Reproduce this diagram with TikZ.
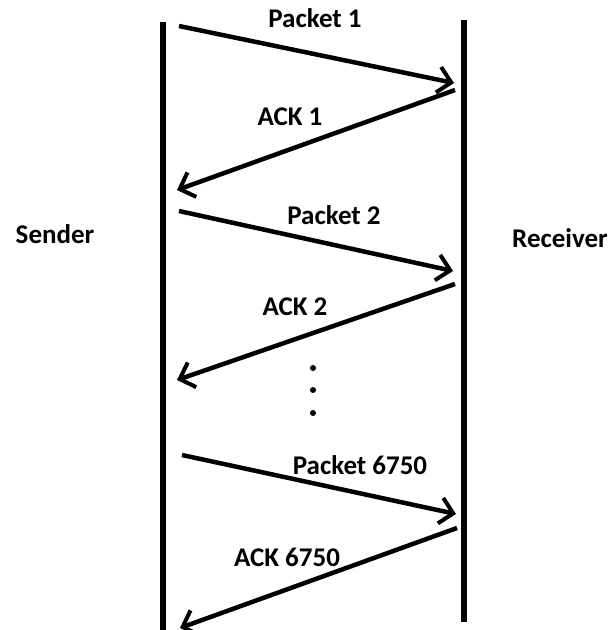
\documentclass[tikz,border=0pt]{standalone}
\usepackage{fontspec}
\setmainfont{Carlito}
\usetikzlibrary{positioning,arrows.meta}

\begin{document}
\begin{tikzpicture}[x=1pt,y=-1pt,
		every node/.style={
			font=\fontsize{27}{30}\selectfont\bfseries,
			inner sep=1pt,
		},
		lifeline/.style={line width=5.5pt},
		msg/.style={line width=4.5pt,-{Straight Barb[length=13pt,width=26pt,line width=4pt]}},
		dot/.style={circle,fill,inner sep=0pt,minimum size=6pt},
		]

		\useasboundingbox (0,0) rectangle (616,630);

		% lifelines
		\coordinate (sendtop) at (163,22);
		\coordinate (sendbot) at (163,630);
		\coordinate (recvtop) at (464,20);
		\coordinate (recvbot) at (464,622);
		\draw[lifeline] (sendtop) -- (sendbot);
		\draw[lifeline] (recvtop) -- (recvbot);

		\node (sender) at (55,234) {Sender};
		\node (receiver) at (560,238) {Receiver};

		% messages
		\coordinate (p1s) at (179,26);
		\coordinate (p1e) at (454,83);
		\coordinate (a1s) at (455,90);
		\coordinate (a1e) at (177,190);
		\coordinate (p2s) at (179,211);
		\coordinate (p2e) at (453,271);
		\coordinate (a2s) at (455,284);
		\coordinate (a2e) at (177,380);
		\coordinate (pns) at (182,455);
		\coordinate (pne) at (456,514);
		\coordinate (ans) at (457,528);
		\coordinate (ane) at (180,628);

		\draw[msg] (p1s) -- (p1e);
		\draw[msg] (a1s) -- (a1e);
		\draw[msg] (p2s) -- (p2e);
		\draw[msg] (a2s) -- (a2e);
		\draw[msg] (pns) -- (pne);
		\draw[msg] (ans) -- (ane);

		\node (pk1) at (315,18) {Packet 1};
		\node (ack1) at (290,117) {ACK 1};
		\node (pk2) at (334,215) {Packet 2};
		\node (ack2) at (295,307) {ACK 2};
		\node (pkn) at (360,465) {Packet 6750};
		\node (ackn) at (287,557) {ACK 6750};

		\node[dot] (d1) at (313,368) {};
		\node[dot] (d2) at (313,390) {};
		\node[dot] (d3) at (313,413) {};

	\end{tikzpicture}
\end{document}
